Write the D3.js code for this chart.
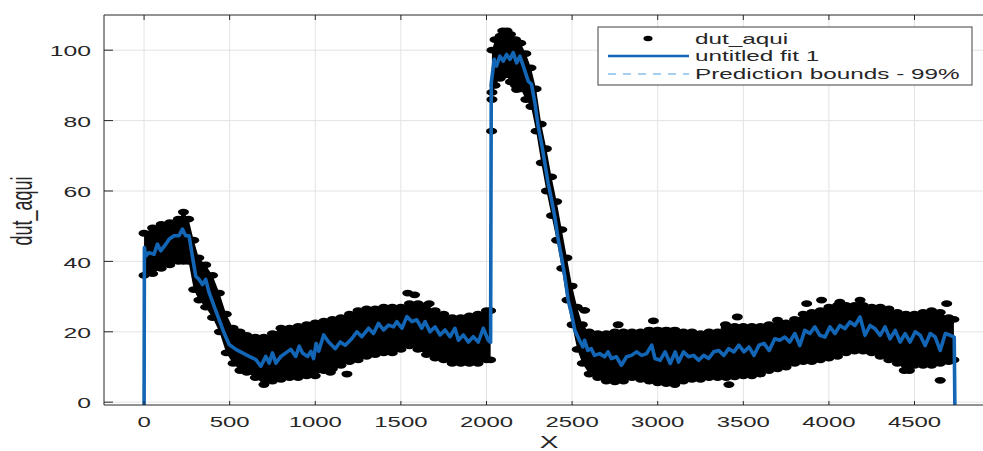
<!DOCTYPE html>
<html>
<head>
<meta charset="utf-8">
<script src="https://cdn.jsdelivr.net/npm/d3@7"></script>
<style>
  body { margin: 0; background: #fff; }
  text { font-family: "Liberation Sans", Arial, sans-serif; fill: #262626; }
</style>
</head>
<body>
<svg id="chart" width="983" height="451"></svg>
<script>
// tick values
const xTicks = [0, 500, 1000, 1500, 2000, 2500, 3000, 3500, 4000, 4500];
const yTicks = [0, 20, 40, 60, 80, 100];

// "untitled fit 1"
const fitX = [0, 2, 10, 29, 58, 78, 97, 127, 146, 175, 204, 224, 243, 263, 282, 302, 321, 341, 360, 380,
    409, 438, 467, 497, 536, 575, 614, 653, 682, 711, 731, 750, 770, 799, 828, 857, 886, 906, 925, 955,
    974, 990, 1005, 1020, 1049, 1078, 1117, 1146, 1175, 1214, 1243, 1272, 1311, 1340, 1369, 1399, 1428, 1457, 1476, 1506,
    1535, 1564, 1593, 1622, 1641, 1670, 1700, 1729, 1758, 1787, 1816, 1836, 1865, 1894, 1923, 1952, 1981, 2010, 2024,
    2028, 2045, 2059, 2078, 2098, 2117, 2137, 2156, 2176, 2195, 2215, 2244, 2263, 2283, 2302, 2321, 2341, 2360, 2380,
    2399, 2419, 2438, 2458, 2477, 2496, 2516, 2543, 2563, 2573, 2592, 2612, 2631, 2661, 2690, 2710, 2729, 2759, 2788,
    2818, 2847, 2876, 2906, 2935, 2965, 2984, 3014, 3043, 3073, 3102, 3122, 3151, 3180, 3210, 3239, 3269, 3298, 3327,
    3357, 3386, 3415, 3445, 3474, 3504, 3533, 3562, 3592, 3621, 3651, 3684, 3713, 3742, 3771, 3801, 3830, 3859, 3889,
    3918, 3947, 3977, 4006, 4035, 4064, 4094, 4123, 4152, 4182, 4211, 4240, 4269, 4299, 4328, 4357, 4387, 4416, 4445,
    4474, 4504, 4533, 4562, 4592, 4621, 4650, 4680, 4709, 4732, 4736];
const fitY = [-3, 43.9, 41.5, 42.5, 42, 44.9, 43, 44.9, 46.3, 47.3, 47.3, 49.2, 47.3, 47.3, 41.5, 35.8, 34.9, 33.4, 34.9, 31.1,
    27.3, 23.5, 19.7, 16.4, 15, 14, 13, 12.1, 10.2, 13, 11.1, 14, 11.1, 13, 14, 15, 13, 15.9, 14, 13,
    14.4, 12.4, 16.7, 14.5, 19.1, 17.1, 15.2, 17.1, 16.2, 18.1, 20.0, 18.6, 21.0, 19.5, 22.4, 20.5, 21.9, 21.4, 22.9, 21.0,
    24.3, 22.9, 23.4, 21.0, 22.9, 20.0, 21.4, 19.1, 20.5, 18.6, 21.0, 17.6, 19.1, 17.1, 18.6, 17.1, 21.0, 17.6, 17.0,
    90.7, 97.4, 95.5, 98.3, 96.9, 98.8, 97.4, 99.3, 96.4, 98.3, 95.5, 91.2, 90.3, 85.0, 78.4, 73.6, 67.9, 62.2, 57.5,
    52.7, 46.1, 41.3, 35.6, 29.0, 25.2, 20.4, 17.6, 15.7, 17.6, 14.7, 15.2, 13.3, 13.8, 12.9, 14.3, 12.4, 12.9, 10.5,
    12.9, 13.3, 14.3, 13.3, 13.8, 16.2, 12.4, 11.9, 14.3, 11.0, 14.3, 11.4, 14.3, 12.9, 13.3, 11.9, 13.3, 12.4, 14.3,
    14.7, 13.3, 15.2, 14.3, 16.2, 14.3, 15.7, 13.3, 16.2, 16.7, 14.7, 18.0, 17.6, 18.5, 17.1, 19.5, 16.1, 20.4, 19.5,
    21.4, 19.0, 18.5, 21.4, 19.5, 21.8, 20.9, 22.8, 21.8, 24.2, 19.0, 21.8, 20.9, 19.0, 21.4, 18.0, 20.4, 17.1, 19.5,
    17.1, 20.0, 19.0, 16.1, 19.5, 18.5, 14.7, 19.5, 19.0, 18.5, -3];

// dut_aqui: lower / upper edge of the dense cloud of samples
const bandX = [0, 50, 100, 150, 200, 230, 260, 290, 320, 360, 400, 440, 480, 520, 560, 600, 650, 700, 750, 800,
    850, 900, 950, 1000, 1050, 1100, 1150, 1200, 1250, 1300, 1350, 1400, 1450, 1500, 1550, 1600, 1650, 1700, 1750, 1800,
    1850, 1900, 1950, 2000, 2024, 2032, 2050, 2080, 2110, 2140, 2170, 2200, 2230, 2260, 2290, 2320, 2350, 2380, 2410, 2440,
    2470, 2500, 2530, 2560, 2600, 2650, 2700, 2750, 2800, 2850, 2900, 2950, 3000, 3050, 3100, 3150, 3200, 3250, 3300, 3350,
    3400, 3450, 3500, 3550, 3600, 3650, 3700, 3750, 3800, 3850, 3900, 3950, 4000, 4050, 4100, 4150, 4200, 4250, 4300, 4350,
    4400, 4450, 4500, 4550, 4600, 4650, 4700, 4730];
const bandLo = [36, 36.5, 38, 39, 40, 40, 40, 32, 29, 27, 24, 20, 14, 11, 9, 8.5, 7, 5, 6, 6.5,
    7, 7, 7.5, 7.5, 9, 9.5, 10.5, 11.5, 12, 13, 13.5, 14, 14, 15, 16, 15, 13.5, 12.5, 12, 11,
    11, 11, 11, 12, 12, 86, 90, 92, 93, 91, 90, 89, 86, 84, 77, 68, 60, 53, 46, 38,
    29, 22, 15, 11, 8, 7, 6, 5.8, 6, 7, 6.5, 6, 5.5, 5.3, 5.5, 6, 6.5, 6.5, 7, 7,
    7, 7.2, 7.5, 7.5, 8, 9, 9.5, 10, 11, 11.5, 11.5, 12, 12.5, 13, 14, 14.5, 14.5, 14, 13, 12,
    11, 10.5, 10.5, 10.5, 10.5, 11, 11.5, 12];
const bandHi = [48, 49.5, 50.5, 51, 52, 54, 52, 46, 41, 39, 36, 31, 25, 21, 20, 19, 18.5, 18.5, 19.5, 21,
    21, 21.5, 22, 22.5, 23, 23.5, 24, 25, 26, 26.5, 26.5, 27, 27, 27, 28, 28, 27.5, 26, 25, 24,
    24, 24.5, 25, 26, 26, 100, 103, 104, 105, 104.5, 103, 102, 99, 95, 89, 79, 72, 64, 57, 49,
    41, 33, 27, 22, 20, 19.5, 19.5, 20, 20, 20, 20, 20.5, 20.5, 20.5, 20.5, 20, 20, 19.5, 20, 20,
    21, 21.5, 21.5, 21.5, 21.5, 22, 22, 22.5, 23.5, 25, 25.5, 26, 27, 27.5, 27.5, 27.5, 27.5, 27, 27, 26.5,
    25.5, 25, 25, 25.5, 26, 25.5, 24, 23.5];

// isolated samples outside the cloud
const outX = [1088, 1185, 1540, 1580, 1665, 2030, 2032, 2095, 2120, 2176, 2573, 2769, 2975, 3100, 3396, 3416, 3465, 3700,
    3870, 3957, 4064, 4182, 4440, 4470, 4650, 4688];
const outY = [8.5, 8, 31, 30.5, 28, 77, 88, 105.5, 105.5, 88.8, 26.1, 22, 23.1, 5, 22, 5, 24.2, 23.3,
    28, 29, 28.4, 29, 9, 9, 6.2, 28];

const legendLabels = ["dut_aqui", "untitled fit 1", "Prediction bounds - 99%"];

const SX = 1.65;          // the figure is stretched horizontally
const fitColor = "#1266b5";
const boundColor = "#4d9de0";
const axisColor = "#262626";

const svg = d3.select("#chart");
const pl = 104, pt = 15, pb = 405, pr = 983;

let x = d3.scaleLinear().domain([-234, 4900]).range([pl, pr]);
let y = d3.scaleLinear().domain([-0.8, 110]).range([pb, pt]);

svg.append("defs").append("clipPath").attr("id", "plotClip")
    .append("rect").attr("x", pl).attr("y", pt).attr("width", pr - pl + 10).attr("height", pb - pt);

// grid
let grid = svg.append("g").attr("stroke", "#e3e3e3").attr("stroke-width", 1);
grid.selectAll(".vg").data(xTicks).enter().append("line")
    .attr("x1", d => x(d)).attr("x2", d => x(d)).attr("y1", pt).attr("y2", pb);
grid.selectAll(".hg").data(yTicks).enter().append("line")
    .attr("x1", pl).attr("x2", pr).attr("y1", d => y(d)).attr("y2", d => y(d));

let plot = svg.append("g").attr("clip-path", "url(#plotClip)");

// sample cloud
let band = bandX.map((d, i) => ({x: d, lo: bandLo[i], hi: bandHi[i]}));
let bandArea = d3.area()
    .x(d => x(d.x))
    .y0(d => y(d.lo))
    .y1(d => y(d.hi));
plot.append("path").datum(band).attr("d", bandArea).attr("fill", "#000");

let edgePts = [];
band.forEach(d => { edgePts.push([d.x, d.lo]); edgePts.push([d.x, d.hi]); });
outX.forEach((d, i) => edgePts.push([d, outY[i]]));
plot.selectAll(".dot").data(edgePts).enter().append("ellipse")
    .attr("cx", d => x(d[0])).attr("cy", d => y(d[1]))
    .attr("rx", 5.5).attr("ry", 3.4).attr("fill", "#000");

// fit
let fitLine = d3.line().x(d => x(d[0])).y(d => y(d[1]));
plot.append("path").datum(fitX.map((d, i) => [d, fitY[i]]))
    .attr("d", fitLine)
    .attr("fill", "none").attr("stroke", fitColor).attr("stroke-width", 3.6)
    .attr("stroke-linejoin", "round");

// axes box
let ax = svg.append("g").attr("stroke", axisColor).attr("stroke-width", 1);
ax.append("line").attr("x1", pl).attr("x2", pr).attr("y1", pb).attr("y2", pb);
ax.append("line").attr("x1", pl).attr("x2", pr).attr("y1", pt).attr("y2", pt);
ax.append("line").attr("x1", pl).attr("x2", pl).attr("y1", pt).attr("y2", pb);
ax.selectAll(".bt").data(xTicks).enter().append("line")
    .attr("x1", d => x(d)).attr("x2", d => x(d)).attr("y1", pb).attr("y2", pb - 4);
ax.selectAll(".tt").data(xTicks).enter().append("line")
    .attr("x1", d => x(d)).attr("x2", d => x(d)).attr("y1", pt).attr("y2", pt + 5);
ax.selectAll(".lt").data(yTicks).enter().append("line")
    .attr("x1", pl).attr("x2", pl + 9).attr("y1", d => y(d)).attr("y2", d => y(d));

// tick labels
svg.selectAll(".xl").data(xTicks).enter().append("text")
    .attr("transform", d => "translate(" + x(d) + ",422) scale(" + SX + ",1)")
    .attr("text-anchor", "middle").attr("dy", "0.35em")
    .style("font-size", "14.5px").text(d => d);
svg.selectAll(".yl").data(yTicks).enter().append("text")
    .attr("transform", d => "translate(91," + (y(d) + 1) + ") scale(" + SX + ",1)")
    .attr("text-anchor", "end").attr("dy", "0.35em")
    .style("font-size", "15px").text(d => d);

// axis titles
svg.append("text")
    .attr("transform", "translate(549,442) scale(" + SX + ",1)")
    .attr("text-anchor", "middle").attr("dy", "0.35em")
    .style("font-size", "17px").text("X");
svg.append("text")
    .attr("transform", "translate(32,211) scale(" + SX + ",1) rotate(-90)")
    .attr("text-anchor", "middle")
    .style("font-size", "18px").text("dut_aqui");

// legend
let lg = svg.append("g");
lg.append("rect").attr("x", 598).attr("y", 27).attr("width", 374).attr("height", 58)
    .attr("fill", "#fff").attr("stroke", "#404040").attr("stroke-width", 1);
let rowY = [38.5, 56, 74];
lg.append("ellipse").attr("cx", 648).attr("cy", rowY[0]).attr("rx", 4.5).attr("ry", 2.8).attr("fill", "#000");
lg.append("line").attr("x1", 608).attr("x2", 689).attr("y1", rowY[1]).attr("y2", rowY[1])
    .attr("stroke", fitColor).attr("stroke-width", 2.5);
lg.append("line").attr("x1", 608).attr("x2", 689).attr("y1", rowY[2]).attr("y2", rowY[2])
    .attr("stroke", boundColor).attr("stroke-width", 1).attr("stroke-dasharray", "8,7");
lg.selectAll(".lgt").data(legendLabels).enter().append("text")
    .attr("transform", (d, i) => "translate(695," + rowY[i] + ") scale(1.62,1)")
    .attr("dy", "0.35em").style("font-size", "15px").text(d => d);
</script>
</body>
</html>
